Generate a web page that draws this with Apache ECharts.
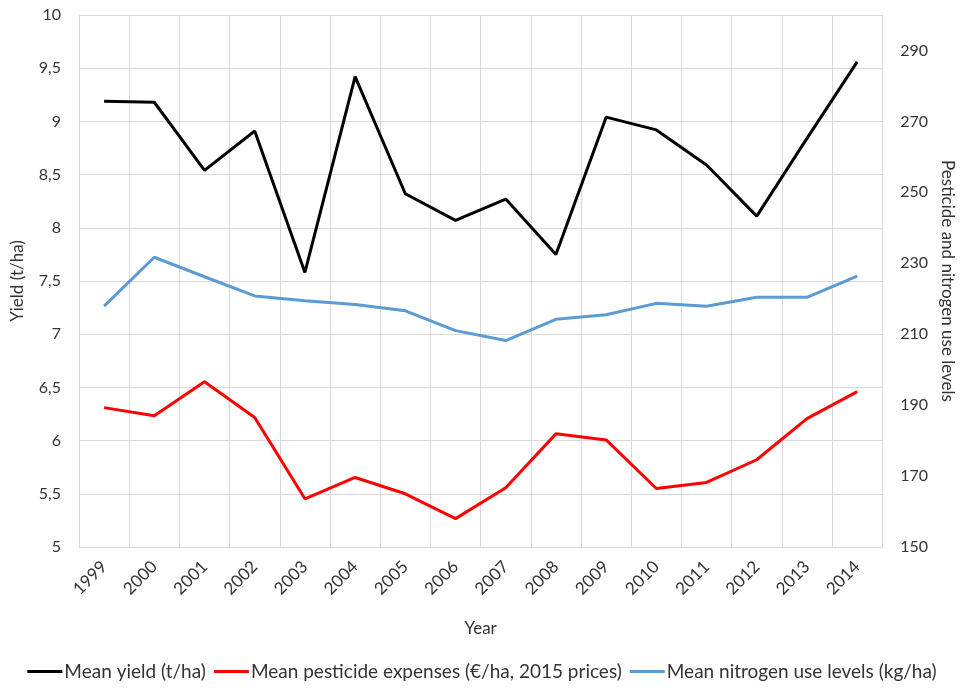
<!DOCTYPE html>
<html>
<head>
<meta charset="utf-8">
<script src="https://cdn.jsdelivr.net/npm/echarts@6/dist/echarts.min.js"></script>
<style>
  html, body { margin: 0; padding: 0; background: #fff; }
  #chart { width: 964px; height: 689px; }
</style>
</head>
<body>
<div id="chart"></div>
<script>
// years on the x axis
var years = ['1999', '2000', '2001', '2002', '2003', '2004', '2005', '2006',
             '2007', '2008', '2009', '2010', '2011', '2012', '2013', '2014'];
// mean yield (t/ha), left axis
var yieldData = [9.19, 9.18, 8.54, 8.91, 7.58, 9.42, 8.32, 8.07,
                 8.27, 7.75, 9.04, 8.92, 8.59, 8.11, 8.84, 9.56];
// mean pesticide expenses (EUR/ha, 2015 prices), right axis
var pesticideData = [189.3, 187.0, 196.6, 186.5, 163.6, 169.6, 165.0, 158.0,
                     166.7, 181.9, 180.2, 166.5, 168.2, 174.6, 186.2, 193.8];
// mean nitrogen use levels (kg/ha), right axis
var nitrogenData = [217.9, 231.7, 226.2, 220.8, 219.4, 218.4, 216.6, 211.0,
                    208.2, 214.2, 215.5, 218.7, 217.9, 220.4, 220.4, 226.4];

var seriesNames = ['Mean yield (t/ha)',
                   'Mean pesticide expenses (\u20ac/ha, 2015 prices)',
                   'Mean nitrogen use levels (kg/ha)'];

var font = 'Lato, "Open Sans", sans-serif';
var textColor = '#333333';
var gridColor = '#d9d9d9';

var chart = echarts.init(document.getElementById('chart'));

var option = {
    backgroundColor: '#fff',
    animation: false,
    textStyle: { fontFamily: font },
    grid: {
        left: 79,
        right: 76,
        top: 15,
        bottom: 142
    },
    legend: {
        bottom: 3,
        left: 'center',
        itemWidth: 35,
        itemHeight: 3,
        itemGap: 8,
        icon: 'rect',
        textStyle: { color: textColor, fontSize: 19, fontFamily: font, padding: [0, 0, 0, -3] },
        data: seriesNames
    },
    xAxis: {
        type: 'category',
        data: years,
        boundaryGap: true,
        name: 'Year',
        nameLocation: 'middle',
        nameGap: 73,
        nameTextStyle: { color: textColor, fontSize: 17, fontFamily: font },
        axisLine: { lineStyle: { color: gridColor, width: 1 } },
        axisTick: { show: false },
        axisLabel: { color: textColor, fontSize: 17, rotate: 45, margin: 17, interval: 0 },
        splitLine: { show: true, interval: 0, lineStyle: { color: gridColor, width: 1 } }
    },
    yAxis: [
        {
            type: 'value',
            min: 5,
            max: 10,
            interval: 0.5,
            name: 'Yield (t/ha)',
            nameLocation: 'middle',
            nameGap: 53,
            nameTextStyle: { color: textColor, fontSize: 17, fontFamily: font },
            axisLine: { show: true, lineStyle: { color: gridColor } },
            axisTick: { show: false },
            axisLabel: {
                color: textColor,
                fontSize: 16,
                margin: 18,
                formatter: function (v) { return String(v).replace('.', ','); }
            },
            splitLine: { show: true, lineStyle: { color: gridColor, width: 1 } }
        },
        {
            type: 'value',
            position: 'right',
            min: 150,
            max: 300,
            interval: 20,
            name: 'Pesticide and nitrogen use levels',
            nameLocation: 'middle',
            nameRotate: -90,
            nameGap: 52,
            nameTextStyle: { color: textColor, fontSize: 17, fontFamily: font },
            axisLine: { show: true, lineStyle: { color: gridColor } },
            axisTick: { show: false },
            axisLabel: {
                color: textColor,
                fontSize: 16,
                margin: 18,
                showMaxLabel: false,
                formatter: function (v) { return v === 300 ? '' : String(v); }
            },
            splitLine: { show: false }
        }
    ],
    series: [
        {
            name: seriesNames[0],
            type: 'line',
            yAxisIndex: 0,
            data: yieldData,
            symbol: 'none',
            color: '#000000',
            lineStyle: { width: 3, color: '#000000' }
        },
        {
            name: seriesNames[1],
            type: 'line',
            yAxisIndex: 1,
            data: pesticideData,
            symbol: 'none',
            color: '#ff0000',
            lineStyle: { width: 3, color: '#ff0000' }
        },
        {
            name: seriesNames[2],
            type: 'line',
            yAxisIndex: 1,
            data: nitrogenData,
            symbol: 'none',
            color: '#5b9bd5',
            lineStyle: { width: 3, color: '#5b9bd5' }
        }
    ]
};

chart.setOption(option);
</script>
</body>
</html>
